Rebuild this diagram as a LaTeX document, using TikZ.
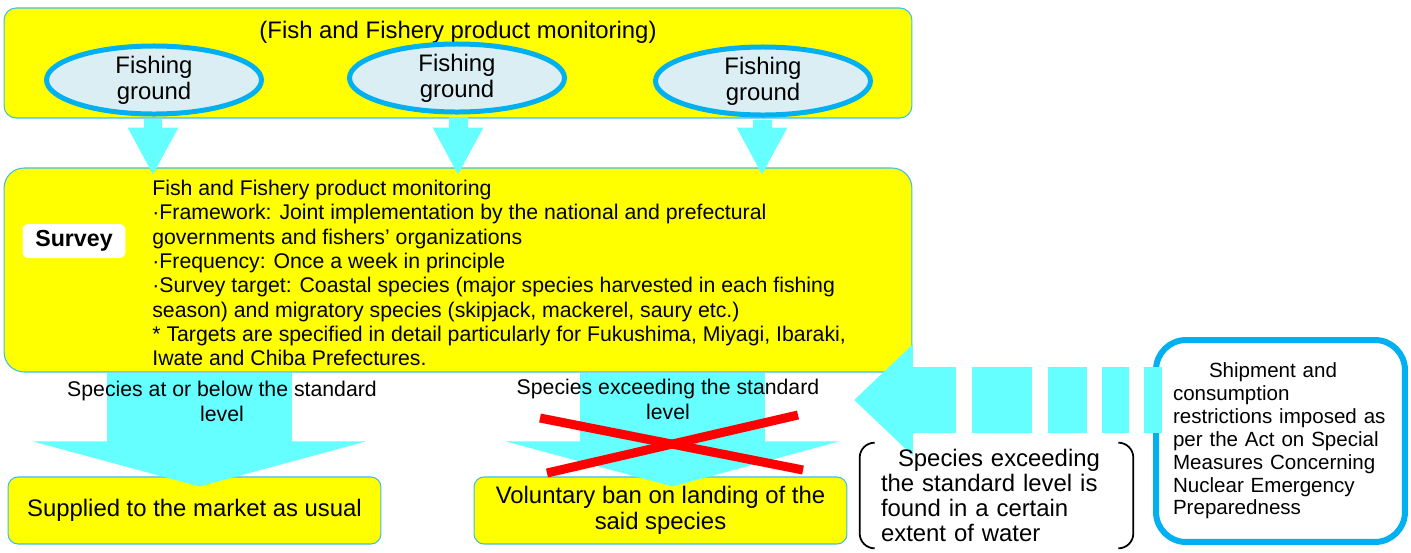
\documentclass[tikz,border=0pt]{standalone}
\usepackage{fontspec}
\setmainfont{Liberation Sans}
\usepackage{tikz}
\usetikzlibrary{shapes.geometric, arrows.meta, calc}
\definecolor{panelyellow}{RGB}{255,255,0}
\definecolor{panelline}{RGB}{60,190,235}
\definecolor{flowcyan}{RGB}{102,255,255}
\definecolor{groundfill}{RGB}{218,238,243}
\definecolor{groundline}{RGB}{0,176,240}
\definecolor{bandpink}{RGB}{255,204,255}
\newcommand{\bigtext}{\fontsize{13.6pt}{14.7pt}\selectfont}
\newcommand{\bracktext}{\fontsize{13.6pt}{14.2pt}\selectfont}
\newcommand{\smalltext}{\fontsize{12.1pt}{13.83pt}\selectfont}
\newcommand{\labeltext}{\fontsize{12.1pt}{14.2pt}\selectfont}
\newcommand{\restricttext}{\fontsize{11.7pt}{13pt}\selectfont}
\tikzstyle{panel} = [rectangle, rounded corners=0.24cm, draw=panelline, line width=0.6pt, fill=panelyellow]
\tikzstyle{ground} = [ellipse, minimum width=4.3cm, minimum height=1.18cm, inner sep=0pt, draw=groundline, line width=0.1cm, fill=groundfill, align=center, font=\bigtext]
\tikzstyle{outcome} = [rectangle, rounded corners=0.2cm, minimum width=7.46cm, minimum height=1.34cm, draw=panelline, line width=0.6pt, fill=panelyellow, align=center, font=\bigtext]
\tikzstyle{thinarrow} = [flowcyan, line width=0.38cm, -{Triangle[width=0.94cm, length=0.96cm]}]
\tikzstyle{widearrow} = [flowcyan, line width=3.7cm, -{Triangle[width=6.64cm, length=0.9cm]}]
\tikzstyle{backarrow} = [flowcyan, line width=1.32cm, dash pattern=on 0.36cm off 0.3cm on 0.54cm off 0.3cm on 0.78cm off 0.32cm on 1.2cm off 0.32cm on 4cm off 1cm, -{Triangle[width=2.16cm, length=1.18cm]}]
\tikzstyle{banmark} = [red, line width=0.18cm]
\tikzstyle{bracketline} = [draw=black, line width=1pt, rounded corners=0.3cm]

\begin{document}
\begin{tikzpicture}[x=0.02cm, y=-0.02cm]
\useasboundingbox (0,0) rectangle (1411,552);
\shade [top color=white, middle color=bandpink, bottom color=white] (4,375) rectangle (1152,500);

\node (monitor) [panel, minimum width=18.16cm, minimum height=2.2cm] at (458,63) {};
\node (title) [font=\bigtext] at (458,32) {(Fish and Fishery product monitoring)};
\node (survey) [panel, rounded corners=0.4cm, minimum width=18.16cm, minimum height=4.08cm] at (458,270) {};
\node (surveyTag) [fill=white, rounded corners=0.12cm, minimum width=2.06cm, minimum height=0.68cm, font=\fontsize{13.2pt}{14pt}\selectfont\bfseries] at (74,241) {Survey};
\node (surveyText) [anchor=west, inner sep=0pt, align=left, font=\smalltext] at (152,273) {Fish and Fishery product monitoring\\
·Framework: Joint implementation by the national and prefectural\\
governments and fishers’ organizations\\
·Frequency: Once a week in principle\\
·Survey target: Coastal species (major species harvested in each fishing\\
season) and migratory species (skipjack, mackerel, saury etc.)\\
* Targets are specified in detail particularly for Fukushima, Miyagi, Ibaraki,\\
Iwate and Chiba Prefectures.};
\node (groundA) [ground] at (154,80) {Fishing\\ground};
\node (groundB) [ground] at (457,78) {Fishing\\ground};
\node (groundC) [ground] at (763,81) {Fishing\\ground};
\node (supplied) [outcome] at (194.5,510.5) {Supplied to the market as usual};
\node (voluntary) [outcome] at (660.5,510.5) {Voluntary ban on landing of the\\said species};
\node (restrict) [rectangle, rounded corners=0.6cm, draw=groundline, line width=0.12cm, fill=white, minimum width=4.98cm, minimum height=4.04cm, text width=4.3cm, inner xsep=0.34cm, align=left, font=\restricttext] at (1280.5,441) {\hspace*{0.72cm}Shipment and\\consumption\\restrictions imposed as\\per the Act on Special\\Measures Concerning\\Nuclear Emergency\\Preparedness};
\coordinate (banTip) at (854,400);

\draw [thinarrow] ($(groundA.south)+(-1,2)$) -- ($(survey.north -| groundA.south)+(-1,8)$);
\draw [thinarrow] ($(groundB.south)+(1,2)$) -- ($(survey.north -| groundB.south)+(1,8)$);
\draw [thinarrow] ($(groundC.south)+(-1,2)$) -- ($(survey.north -| groundC.south)+(-1,8)$);
\draw [widearrow] ($(survey.south -| supplied.north)+(5,0)$) -- ($(supplied.north)+(5,10)$);
\draw [widearrow] ($(survey.south -| voluntary.north)+(12,0)$) -- ($(voluntary.north)+(12,10)$);
\draw [backarrow] ($(restrict.west |- banTip)+(9,0)$) -- (banTip);

\node (belowLabel) [align=center, font=\labeltext] at (222,401) {Species at or below the standard\\level};
\node (aboveLabel) [align=center, font=\labeltext] at (668,399) {Species exceeding the standard\\level};
\draw [banmark] (540,418) -- (803,470);
\draw [banmark] (547,473) -- (798,415);

\node (reach) [minimum width=5.46cm, minimum height=2.1cm, text width=4.62cm, inner xsep=0.42cm, align=left, font=\bracktext] at (996.5,495.5) {\hspace*{0.34cm}Species exceeding\\the standard level is\\found in a certain\\extent of water};
\draw [bracketline] ($(reach.north west)+(15,0)$) -- (reach.north west) -- (reach.south west) -- ($(reach.south west)+(15,0)$);
\draw [bracketline] ($(reach.north east)+(-15,0)$) -- (reach.north east) -- (reach.south east) -- ($(reach.south east)+(-15,0)$);
\end{tikzpicture}
\end{document}
